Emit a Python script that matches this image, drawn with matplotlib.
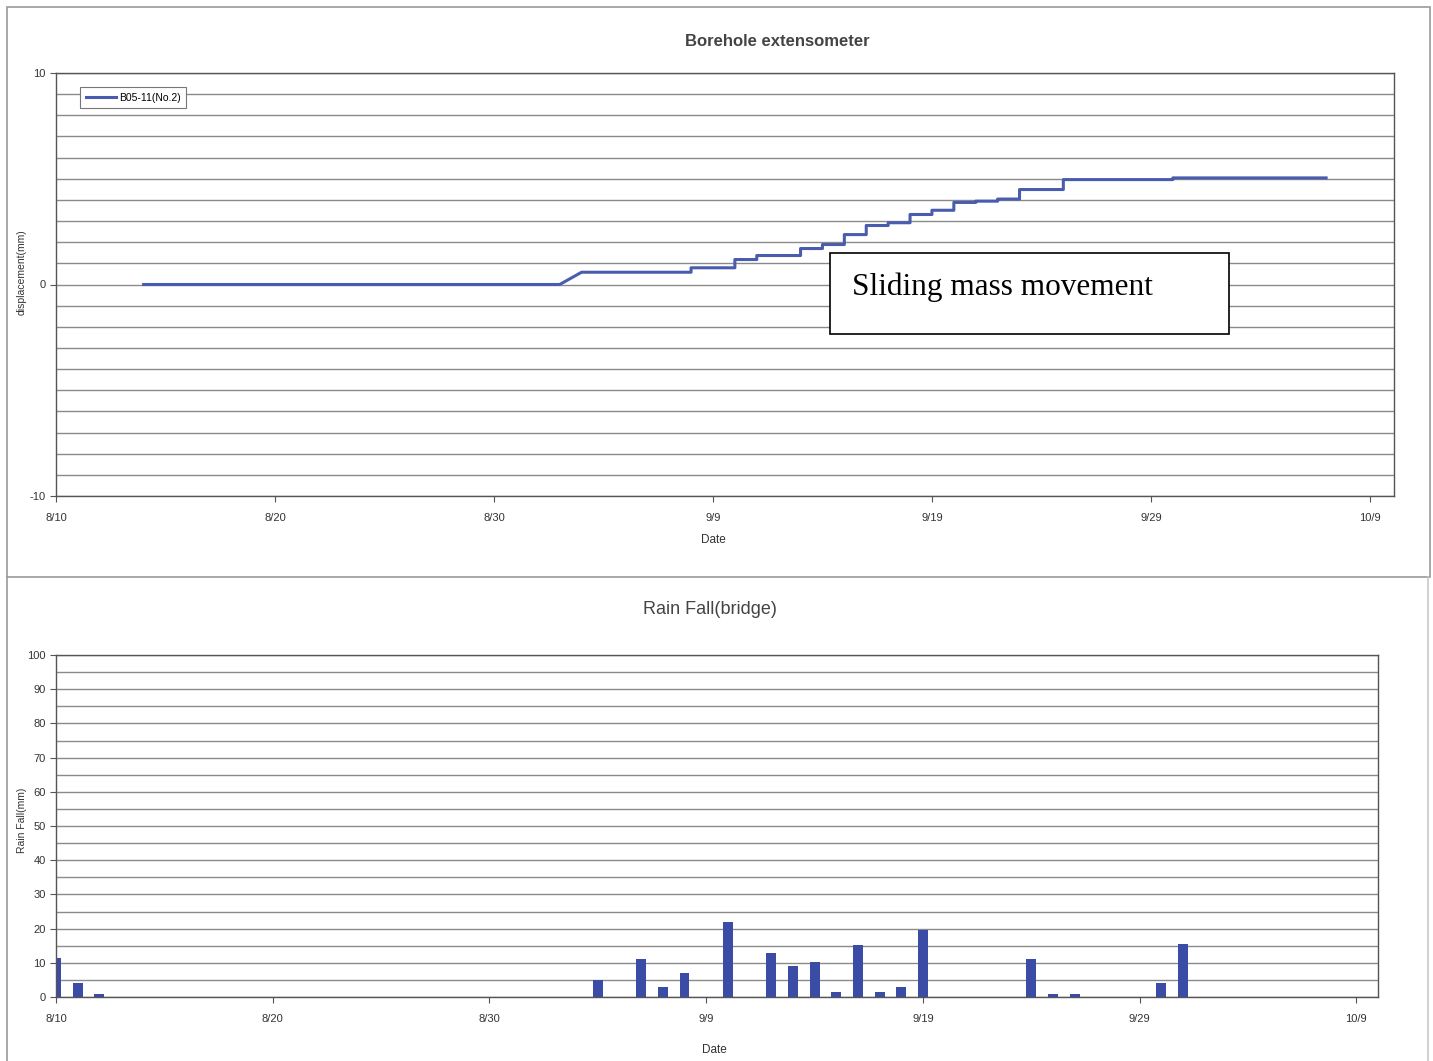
import datetime as dt
import matplotlib
matplotlib.use("Agg")
import matplotlib.pyplot as plt
import matplotlib.dates as mdates
from matplotlib.patches import Rectangle
from matplotlib.lines import Line2D
from matplotlib.ticker import FuncFormatter, MultipleLocator

plt.rcParams["axes.unicode_minus"] = False

YEAR = 2007

# Borehole extensometer B05-11(No.2): flat start, ramp, then stepwise creep
DISP_START = ("8/14", 0.0)
RAMP = [("9/2", 0.0), ("9/3", 0.58)]
STEP_DATES = ["9/8", "9/10", "9/11", "9/13", "9/14", "9/15", "9/16", "9/17",
              "9/18", "9/19", "9/20", "9/21", "9/22", "9/23", "9/25", "9/30"]
STEP_LEVELS = [0.79, 1.18, 1.37, 1.70, 1.89, 2.36, 2.79, 2.92,
               3.31, 3.51, 3.88, 3.94, 4.04, 4.49, 4.96, 5.04]
DISP_END = "10/7"

# Daily rainfall at the bridge gauge (mm)
RAIN_DATES = ["8/10", "8/11", "8/12", "9/4", "9/6", "9/7", "9/8", "9/10",
              "9/12", "9/13", "9/14", "9/15", "9/16", "9/17", "9/18", "9/19",
              "9/24", "9/25", "9/26", "9/30", "10/1"]
RAIN_MM = [11.5, 4.2, 0.8, 5.0, 11.0, 3.0, 7.0, 22.0,
           13.0, 9.2, 10.2, 1.5, 15.2, 1.5, 3.0, 19.6,
           11.0, 0.8, 0.8, 4.2, 15.5]

TICK_DATES = ["8/10", "8/20", "8/30", "9/9", "9/19", "9/29", "10/9"]

LINE_BLUE = "#4a5cae"
BAR_BLUE = "#3b4ca6"
GRID = "#8a8a8a"
TXT = "#333333"
FONT = "Liberation Sans"


def md(s, hour=0):
    m, d = s.split("/")
    return dt.datetime(YEAR, int(m), int(d), hour)


def disp_series():
    t = [md(DISP_START[0])]
    v = [DISP_START[1]]
    for s, val in RAMP:
        t.append(md(s)); v.append(val)
    prev = v[-1]
    for s, lev in zip(STEP_DATES, STEP_LEVELS):
        t += [md(s), md(s)]
        v += [prev, lev]
        prev = lev
    t.append(md(DISP_END)); v.append(prev)
    return t, v


W, H = 1433, 1061
fig = plt.figure(figsize=(W / 100, H / 100), dpi=100)
fig.patch.set_facecolor("white")

# panel outlines
fig.add_artist(Rectangle((7 / W, 1 - 577 / H), (1430 - 7) / W, (577 - 7) / H,
                         transform=fig.transFigure, fill=False,
                         edgecolor="#9a9a9a", linewidth=1.2))
fig.add_artist(Line2D([7 / W, 7 / W], [0, 1 - 577 / H], transform=fig.transFigure,
                      color="#9a9a9a", linewidth=1.2))
fig.add_artist(Line2D([1428 / W, 1428 / W], [0, 1 - 577 / H], transform=fig.transFigure,
                      color="#c8c8c8", linewidth=1.2))

month_day = FuncFormatter(lambda x, pos: f"{mdates.num2date(x).month}/{mdates.num2date(x).day}")
ticks = [md(s) for s in TICK_DATES]


def style_axes(ax):
    for sp in ax.spines.values():
        sp.set_color("#555555")
        sp.set_linewidth(1.0)
    ax.set_xticks(ticks)
    ax.xaxis.set_major_formatter(month_day)
    ax.tick_params(axis="both", which="major", labelsize=8, colors="#555555",
                   labelcolor=TXT, length=4, width=0.8)
    ax.tick_params(axis="y", which="minor", length=0)
    ax.tick_params(axis="x", pad=8)
    for lab in ax.get_xticklabels() + ax.get_yticklabels():
        lab.set_fontfamily(FONT)
    ax.grid(True, axis="y", which="both", color=GRID, linewidth=1.0)
    ax.set_axisbelow(True)


# ---- top: borehole extensometer ----
ax1 = fig.add_axes([56 / W, 1 - 496 / H, (1394 - 56) / W, (496 - 73) / H])
t, v = disp_series()
ax1.plot(t, v, color=LINE_BLUE, linewidth=2.2, label="B05-11(No.2)")
ax1.set_ylim(-10, 10)
ax1.set_xlim(md("8/10"), md("8/10") + dt.timedelta(days=61.1))
ax1.yaxis.set_major_locator(MultipleLocator(10))
ax1.yaxis.set_minor_locator(MultipleLocator(1))
style_axes(ax1)
leg = ax1.legend(loc="upper left", bbox_to_anchor=(0.018, 0.967), borderaxespad=0,
                 fancybox=False, framealpha=1, edgecolor="#777777",
                 prop={"family": FONT, "size": 7.5}, handlelength=2.9,
                 handletextpad=0.25, borderpad=0.55)
leg.get_frame().set_linewidth(0.8)

fig.text(777 / W, 1 - 42 / H, "Borehole extensometer", ha="center", va="center",
         fontsize=12, fontweight="bold", color="#444444", family=FONT)
fig.text(22 / W, 1 - 272 / H, "displacement(mm)", ha="center", va="center",
         rotation=90, fontsize=7.5, color=TXT, family=FONT)
fig.text(713 / W, 1 - 540 / H, "Date", ha="center", va="center",
         fontsize=8.5, color=TXT, family=FONT)

# annotation box
fig.add_artist(Rectangle((830 / W, 1 - 334 / H), (1229 - 830) / W, (334 - 253) / H,
                         transform=fig.transFigure, facecolor="white",
                         edgecolor="black", linewidth=1.2))
fig.text(852 / W, 1 - 287 / H, "Sliding mass movement", ha="left", va="center",
         fontsize=22.5, family="Liberation Serif", color="black")

# ---- bottom: rainfall ----
ax2 = fig.add_axes([56 / W, 1 - 997 / H, (1378 - 56) / W, (997 - 655) / H])
ax2.bar([md(s) for s in RAIN_DATES], RAIN_MM, width=0.46, color=BAR_BLUE,
        edgecolor="none")
ax2.set_ylim(0, 100)
ax2.set_xlim(md("8/10"), md("8/10") + dt.timedelta(days=61.0))
ax2.yaxis.set_major_locator(MultipleLocator(10))
ax2.yaxis.set_minor_locator(MultipleLocator(5))
style_axes(ax2)

fig.text(710 / W, 1 - 609 / H, "Rain Fall(bridge)", ha="center", va="center",
         fontsize=13, color="#444444", family=FONT)
fig.text(22 / W, 1 - 820 / H, "Rain Fall(mm)", ha="center", va="center",
         rotation=90, fontsize=7.5, color=TXT, family=FONT)
fig.text(714 / W, 1 - 1050 / H, "Date", ha="center", va="center",
         fontsize=8.5, color=TXT, family=FONT)

fig.savefig("out.png", dpi=100)
